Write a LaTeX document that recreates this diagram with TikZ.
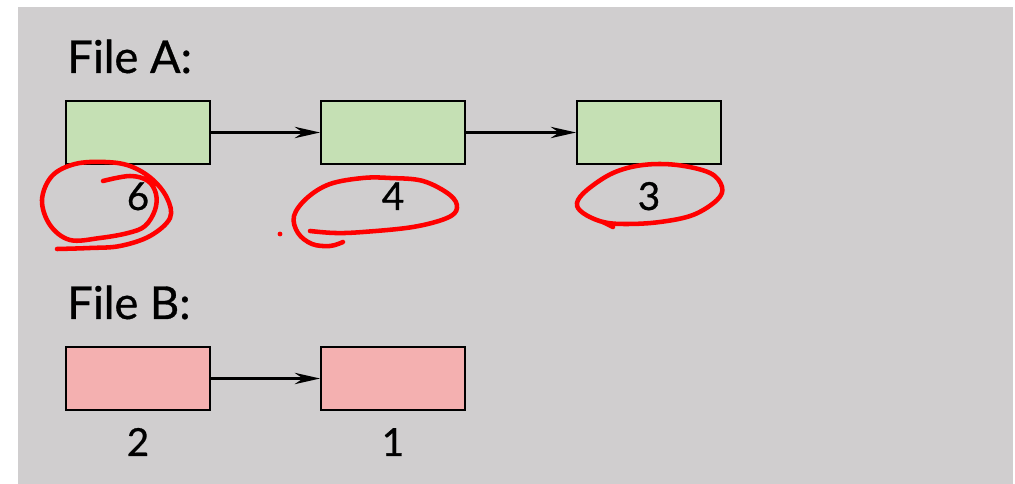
\documentclass[tikz,border=0pt]{standalone}
\usepackage{fontspec}
\setmainfont[FakeBold=0.7]{Lato}
\usepackage{tikz}
\usetikzlibrary{arrows.meta, positioning}
\definecolor{slidegray}{HTML}{D0CECF}
\definecolor{blockgreen}{HTML}{C5E0B4}
\definecolor{blockpink}{HTML}{F4B0B0}
\tikzset{
  %blocks
  blk-a/.style={rectangle, draw=black, line width=1.4pt, fill=blockgreen, minimum width=108pt, minimum height=47pt, inner sep=0pt},
  blk-b/.style={rectangle, draw=black, line width=1.4pt, fill=blockpink, minimum width=108pt, minimum height=47pt, inner sep=0pt},
  blk-link/.style={-{Stealth[length=19pt, width=8.5pt]}, line width=2pt},
  blk-num/.style={anchor=base, inner sep=0pt, font=\fontsize{29}{34}\selectfont},
  file-title/.style={anchor=base west, inner sep=0pt, font=\fontsize{34}{40}\selectfont},
  %pen marks
  pen/.style={red, line width=3.4pt, line cap=round, line join=round}
}
\begin{document}
\begin{tikzpicture}[x=0.75pt, y=-0.75pt]
    \useasboundingbox (0,0) rectangle (1015,484);
    \fill[slidegray] (18,7) rectangle (1013,484);

    % --- File A ---
    \node[file-title] (titleA) at (67,73) {File A:};
    \node[blk-a] (a1) at (138,132.5) {};
    \node[blk-a] (a2) at (393,132.5) {};
    \node[blk-a] (a3) at (649,132.5) {};
    \draw[blk-link] (a1) -- (a2);
    \draw[blk-link] (a2) -- (a3);
    \node[blk-num] (n6) at (138,210) {6};
    \node[blk-num] (n4) at (393,210) {4};
    \node[blk-num] (n3) at (649,210) {3};

    % --- File B ---
    \node[file-title] (titleB) at (67,319) {File B:};
    \node[blk-b] (b1) at (138,378.5) {};
    \node[blk-b] (b2) at (393,378.5) {};
    \draw[blk-link] (b1) -- (b2);
    \node[blk-num] (n2) at (138,456) {2};
    \node[blk-num] (n1) at (393,456) {1};

    % red circles drawn by hand
    \draw[pen] plot[smooth, tension=0.6] coordinates {
        (57,249) (90,248) (120,246) (150,236) (170,218) (167,198) (152,179)
        (130,166) (105,162) (75,164) (52,176) (42,200) (50,225) (70,240)
        (100,238) (128,233) (145,226) (155,210) (156,194) (148,181) (130,176) (103,181)};
    \draw[pen] plot[smooth, tension=0.6] coordinates {
        (310,231) (335,233) (363,232) (413,227) (447,218) (457,208) (450,195)
        (423,181) (390,178) (363,178) (330,184) (307,198) (294,216) (298,233)
        (312,244) (330,246) (343,242)};
    \fill[red] (280,234) circle (2.4);
    \draw[pen] plot[smooth cycle, tension=0.6] coordinates {
        (677,165) (643,165) (613,173) (587,190) (577,203) (583,213) (603,222)
        (627,224) (660,222) (693,215) (717,200) (722,187) (710,173)};
    \draw[pen] (603,222) -- (613,227);
\end{tikzpicture}
\end{document}
